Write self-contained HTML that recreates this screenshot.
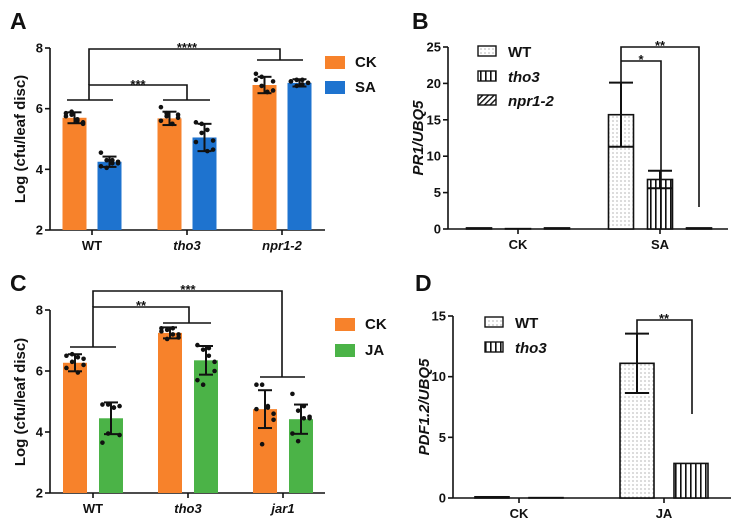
<!DOCTYPE html>
<html><head><meta charset="utf-8">
<style>
html,body{margin:0;padding:0;background:#fff;}
svg{display:block;font-family:"Liberation Sans",Arial,sans-serif;}
</style></head>
<body>
<svg id="fig" width="742" height="525" viewBox="0 0 742 525">
<defs>
<pattern id="dots" width="4" height="4" patternUnits="userSpaceOnUse"><rect width="4" height="4" fill="#fff"/><circle cx="1" cy="1" r="0.55" fill="#555"/></pattern>
<pattern id="vlines" width="5" height="5" patternUnits="userSpaceOnUse"><rect width="5" height="5" fill="#fff"/><rect x="0" width="1.6" height="5" fill="#111"/></pattern>
<pattern id="diag" width="4" height="4" patternUnits="userSpaceOnUse" patternTransform="rotate(45)"><rect width="4" height="4" fill="#fff"/><rect width="1.4" height="4" fill="#111"/></pattern>
</defs>
</svg>
<script>
// ---- Panel A data ----
const aCats=["WT","tho3","npr1-2"];
const aCK=[5.7,5.68,6.78];
const aSA=[4.25,5.05,6.85];
const aCKerr=[0.18,0.22,0.27];
const aSAerr=[0.17,0.45,0.12];
const aCKpts=[[5.85,5.9,5.6,5.5,5.75,5.8,5.65,5.55],[6.05,5.85,5.5,5.7,5.6,5.75,5.5,5.8],[7.15,7.05,6.55,6.6,6.95,6.75,6.55,6.9]];
const aSApts=[[4.55,4.3,4.2,4.25,4.1,4.05,4.3,4.2],[5.55,5.5,4.6,4.65,4.9,5.2,5.3,4.95],[6.9,6.95,6.8,6.85,6.9,6.75,6.95,6.85]];
const aTicks=[2,4,6,8];
// ---- Panel C data ----
const cCats=["WT","tho3","jar1"];
const cCK=[6.27,7.25,4.75];
const cJA=[4.45,6.35,4.42];
const cCKerr=[0.28,0.18,0.62];
const cJAerr=[0.52,0.47,0.48];
const cCKpts=[[6.5,6.55,6.45,6.2,6.1,6.3,5.95,6.4],[7.4,7.35,7.2,7.1,7.3,7.05,7.4,7.2],[5.55,5.55,4.85,4.4,4.75,3.6,4.8,4.6]];
const cJApts=[[4.9,4.9,4.8,3.9,3.65,3.95,4.8,4.85],[6.85,6.7,6.5,6.0,5.7,5.55,6.75,6.3],[5.25,4.7,4.45,4.45,3.95,3.7,4.85,4.5]];
const cTicks=[2,4,6,8];
// ---- Panel B data ----
const bGroups=["CK","SA"];
const bSeries=["WT","tho3","npr1-2"];
const bWT=[0.15,15.7];
const bTho3=[0.05,6.8];
const bNpr=[0.15,0.15];
const bWTerr=[0.05,4.4];
const bTho3err=[0.03,1.2];
const bNprerr=[0.04,0.05];
const bTicks=[0,5,10,15,20,25];
// ---- Panel D data ----
const dGroups=["CK","JA"];
const dSeries=["WT","tho3"];
const dWT=[0.1,11.1];
const dTho3=[0.03,2.85];
const dWTerr=[0.03,2.45];
const dTho3err=[0.02,0.1];
const dTicks=[0,5,10,15];

const NS="http://www.w3.org/2000/svg";
const svg=document.getElementById('fig');
function el(tag,attrs,parent,text){const e=document.createElementNS(NS,tag);for(const k in attrs)e.setAttribute(k,attrs[k]);if(text!==undefined)e.textContent=text;(parent||svg).appendChild(e);return e;}
function line(x1,y1,x2,y2,p,w){return el('line',{x1,y1,x2,y2,stroke:'#111','stroke-width':w||1.6},p);}

function grouped(cfg){
  const g=el('g',{});
  
  
  const Y=v=>cfg.y0+(v-cfg.ymin)*(cfg.y1-cfg.y0)/(cfg.ymax-cfg.ymin);
  cfg.Y=Y;
  // panel letter
  const L=el('text',{x:cfg.lx,y:cfg.ly,'font-size':23,'font-weight':'bold',fill:'#111'},g,cfg.letter);
  
  
  // axes
  const ya=line(cfg.ax,Y(cfg.ymax),cfg.ax,Y(cfg.ymin),g);
  
  
  const xa=line(cfg.ax,Y(cfg.ymin),cfg.axEnd,Y(cfg.ymin),g);
  
  
  cfg.ticks.forEach(t=>{
    line(cfg.ax-5,Y(t),cfg.ax,Y(t),g);
    const tl=el('text',{x:cfg.ax-7,y:Y(t)+4.5,'font-size':13,'font-weight':'bold','text-anchor':'end',fill:'#111'},g,String(t));
    
    
  });
  const yt=el('text',{x:0,y:0,'font-size':15,'font-weight':'bold','text-anchor':'middle',fill:'#111','font-style':cfg.ytItalic?'italic':'normal',transform:`translate(${cfg.ytx},${cfg.yty}) rotate(-90)`},g,cfg.ytitle);
  
  
  cfg.centers.forEach((c,i)=>{
    line(c,Y(cfg.ymin),c,Y(cfg.ymin)+5,g);
    const t=el('text',{x:c,y:Y(cfg.ymin)+20,'font-size':13,'font-weight':'bold','text-anchor':'middle',fill:'#111','font-style':(cfg.catItalic&&cfg.catItalic[i])?'italic':'normal'},g,cfg.cats[i]);
    
    
  });
  // bars
  cfg.series.forEach((s,si)=>{
    s.vals.forEach((v,i)=>{
      const cx=cfg.centers[i]+cfg.offsets[si];
      const top=Y(v),base=Y(cfg.ymin);
      const r=el('rect',{x:cx-cfg.bw/2,y:top,width:cfg.bw,height:Math.max(0,base-top),fill:s.fill,stroke:s.stroke||'none','stroke-width':s.stroke?1.6:0},g);
      
      
      if(s.pts){s.pts[i].forEach((p,k)=>{
        const dx=((k%4)-1.5)*cfg.bw/4.2;
        const d=el('circle',{cx:cx+dx,cy:Y(p),r:2.3,fill:'#111'},g);
        
        
      });}
      const e=s.err[i];
      if(e>0.06*(cfg.ymax-cfg.ymin)/6||s.pts){
        line(cx,Y(v+e),cx,Y(v-e),g,2);
        line(cx-cfg.cap,Y(v+e),cx+cfg.cap,Y(v+e),g,2);
        line(cx-cfg.cap,Y(v-e),cx+cfg.cap,Y(v-e),g,2);
      }
    });
  });
  return g;
}

// Panel A
const gA=grouped({name:'panel-a-chart',letter:'A',lx:10,ly:29,ax:50,axEnd:325,ymin:2,ymax:8,y0:230,y1:48,ticks:aTicks,
 ytitle:'Log (cfu/leaf disc)',ytx:25,yty:139,cats:aCats,catItalic:[false,true,true],centers:[92,187,282],offsets:[-17.5,17.5],bw:24,cap:7,
 series:[{key:'ck',vals:aCK,err:aCKerr,pts:aCKpts,fill:'#F7822B'},{key:'sa',vals:aSA,err:aSAerr,pts:aSApts,fill:'#1E73CF'}]});
// Panel C
const gC=grouped({name:'panel-c-chart',letter:'C',lx:10,ly:291,ax:50,axEnd:325,ymin:2,ymax:8,y0:493,y1:310,ticks:cTicks,
 ytitle:'Log (cfu/leaf disc)',ytx:25,yty:402,cats:cCats,catItalic:[false,true,true],centers:[93,188,283],offsets:[-18,18],bw:24,cap:7,
 series:[{key:'ck',vals:cCK,err:cCKerr,pts:cCKpts,fill:'#F7822B'},{key:'ja',vals:cJA,err:cJAerr,pts:cJApts,fill:'#4BB347'}]});
// Panel B
const gB=grouped({name:'panel-b-chart',letter:'B',lx:412,ly:29,ax:448,axEnd:728,ymin:0,ymax:25,y0:229,y1:47,ticks:bTicks,
 ytitle:'PR1/UBQ5',ytItalic:true,ytx:423,yty:138,cats:bGroups,centers:[518,660],offsets:[-39,0,39],bw:25,cap:12,
 series:[{key:'wt',vals:bWT,err:bWTerr,fill:'url(#dots)',stroke:'#111'},{key:'tho3',vals:bTho3,err:bTho3err,fill:'url(#vlines)',stroke:'#111'},{key:'npr1-2',vals:bNpr,err:bNprerr,fill:'url(#diag)',stroke:'#111'}]});
// Panel D
const gD=grouped({name:'panel-d-chart',letter:'D',lx:415,ly:291,ax:453,axEnd:731,ymin:0,ymax:15,y0:498,y1:316,ticks:dTicks,
 ytitle:'PDF1.2/UBQ5',ytItalic:true,ytx:429,yty:407,cats:dGroups,centers:[519,664],offsets:[-27,27],bw:34,cap:12,
 series:[{key:'wt',vals:dWT,err:dWTerr,fill:'url(#dots)',stroke:'#111'},{key:'tho3',vals:dTho3,err:dTho3err,fill:'url(#vlines)',stroke:'#111'}]});

// brackets & stars
function path(d,name){const p=el('path',{d,fill:'none',stroke:'#111','stroke-width':1.6});return p;}
function star(x,y,s,name){const t=el('text',{x,y,'font-size':13,'font-weight':'bold','text-anchor':'middle',fill:'#111'},svg,s);}
// A
path('M67 100H113M163 100H210M257 60H303','group-brackets-a');
path('M89 100V85H187V100','sig-bracket-wt-tho3-a');star(138,89,'***','sig-stars-a-1');
path('M89 85V49H280V60','sig-bracket-wt-npr-a');star(187,52,'****','sig-stars-a-2');
// C
path('M70 347H116M163 323H211M260 377H305','group-brackets-c');
path('M93 347V307H189V323','sig-bracket-wt-tho3-c');star(141,310,'**','sig-stars-c-1');
path('M93 307V291H282V377','sig-bracket-wt-jar1-c');star(188,294,'***','sig-stars-c-2');
// B
path('M621 82V47H699V207','sig-bracket-b-2');star(660,50,'**','sig-stars-b-2');
path('M621 61H661V229','sig-bracket-b-1');star(641,64,'*','sig-stars-b-1');
// D
path('M637 333V320H692V414','sig-bracket-d');star(664,323,'**','sig-stars-d');

// legends
function legend(x,y,fill,label,name,italic,stroke){
  const g=el('g',{});
  el('rect',{x,y:y-6,width:stroke?18:20,height:stroke?10:13,fill,stroke:stroke?'#111':'none','stroke-width':1.4},g);
  el('text',{x:x+(stroke?30:30),y:y+5,'font-size':15,'font-weight':'bold','font-style':italic?'italic':'normal',fill:'#111'},g,label);
}
legend(325,62,'#F7822B','CK','legend-entry-ck-a');
legend(325,87,'#1E73CF','SA','legend-entry-sa-a');
legend(335,324,'#F7822B','CK','legend-entry-ck-c');
legend(335,350,'#4BB347','JA','legend-entry-ja-c');
legend(478,52,'url(#dots)','WT','legend-entry-wt-b',false,true);
legend(478,77,'url(#vlines)','tho3','legend-entry-tho3-b',true,true);
legend(478,101,'url(#diag)','npr1-2','legend-entry-npr-b',true,true);
legend(485,323,'url(#dots)','WT','legend-entry-wt-d',false,true);
legend(485,348,'url(#vlines)','tho3','legend-entry-tho3-d',true,true);
</script>
</body></html>
